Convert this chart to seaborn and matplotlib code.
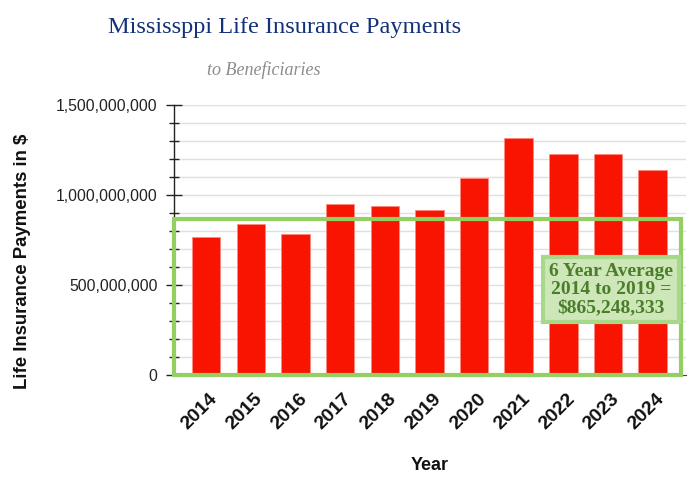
import matplotlib.pyplot as plt
import matplotlib.transforms as mtransforms
from matplotlib.patches import Rectangle
from matplotlib.ticker import MultipleLocator, FuncFormatter
import pandas as pd
import seaborn as sns

# data
years = ["2014", "2015", "2016", "2017", "2018", "2019",
         "2020", "2021", "2022", "2023", "2024"]
payments = [766e6, 840e6, 781e6, 951e6, 937e6, 915e6,
            1094e6, 1318e6, 1230e6, 1230e6, 1139e6]
average_2014_2019 = 865248333

df = pd.DataFrame({"Year": years, "Payments": payments})

sns.set_theme(style="white")
plt.rcParams["font.family"] = ["Liberation Sans", "DejaVu Sans"]

fig = plt.figure(figsize=(6.95, 4.95), dpi=100)
ax = fig.add_axes([0.2504, 0.2424, 0.737, 0.5455])

sns.barplot(data=df, x="Year", y="Payments", color="#f91402", saturation=1,
            width=0.64, edgecolor="#ff8a80", linewidth=0.6, ax=ax, zorder=3)

ax.set_ylim(0, 1.5e9)
ax.set_xlim(-0.72, 10.75)
ax.yaxis.set_major_locator(MultipleLocator(5e8))
ax.yaxis.set_minor_locator(MultipleLocator(1e8))
ax.yaxis.set_major_formatter(FuncFormatter(lambda v, p: f"{v:,.0f}"))
ax.grid(True, which="both", axis="y", color="#e0e0e0", linewidth=1, zorder=0)
ax.set_axisbelow(True)

for s in ["top", "right"]:
    ax.spines[s].set_visible(False)
ax.spines["left"].set_color("#222222")
ax.spines["left"].set_linewidth(1)
ax.spines["bottom"].set_color("#444444")
ax.spines["bottom"].set_linewidth(0.8)

ax.tick_params(axis="y", which="major", left=True, direction="inout", length=12,
               width=1, color="#222222", labelsize=11.3, labelcolor="#222222", pad=6)
ax.tick_params(axis="y", which="minor", left=True, direction="inout", length=7,
               width=1, color="#222222")
ax.tick_params(axis="x", length=0, pad=11)
shift = mtransforms.ScaledTranslation(3 / 100, 0, fig.dpi_scale_trans)
for lab in ax.get_xticklabels():
    lab.set_rotation(45)
    lab.set_ha("right")
    lab.set_rotation_mode("anchor")
    lab.set_fontsize(14)
    lab.set_fontweight("semibold")
    lab.set_color("#111111")
    lab.set_transform(lab.get_transform() + shift)

ax.set_xlabel("Year", fontsize=13, fontweight="bold", color="#111111", labelpad=17)
ax.set_ylabel("Life Insurance Payments in $", fontsize=13.4, fontweight="bold",
              color="#111111")
ax.yaxis.set_label_coords(-0.280, 0.42)

# green outline box from zero up to the average
trans = mtransforms.blended_transform_factory(ax.transAxes, ax.transData)
ax.add_patch(Rectangle((0, 0), 0.99, average_2014_2019, transform=trans,
                       fill=False, edgecolor="#93cf63", linewidth=3,
                       zorder=5, clip_on=False))

ax.text(0.853, 0.316, f"6 Year Average\n2014 to 2019 =\n${average_2014_2019:,}",
        transform=ax.transAxes, ha="center", va="center",
        fontsize=14, fontweight="bold", family=["Liberation Serif"],
        color="#4b7d2b", linespacing=1.1, zorder=6,
        bbox=dict(boxstyle="square,pad=0.3", facecolor="#cde7b8",
                  edgecolor="#a8d88a", linewidth=3))

fig.text(0.41, 0.945, "Mississppi Life Insurance Payments", ha="center",
         va="center", fontsize=17.6, color="#13307a", family=["Liberation Serif"])
fig.text(0.38, 0.858, "to Beneficiaries", ha="center", va="center",
         fontsize=13, style="italic", color="#8c8c8c", family=["Liberation Serif"])

fig.savefig("out.png", dpi=100)
